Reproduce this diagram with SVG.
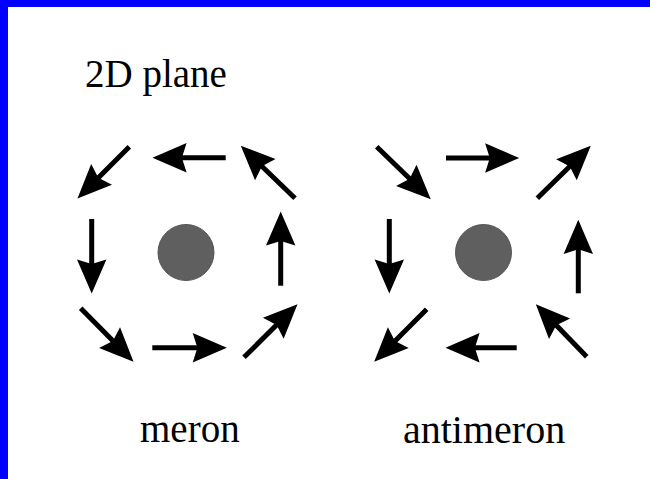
<svg xmlns="http://www.w3.org/2000/svg" width="650" height="479" viewBox="0 0 650 479">
  <style>
    .lbl { font-family: "Liberation Serif", "Times New Roman", serif; fill: #000; }
    .arr { stroke: #000; stroke-width: 5; fill: none; marker-end: url(#head); }
    .core { fill: #5f5f5f; stroke: #555; stroke-width: 1; }
  </style>
  <defs>
    <marker id="head" markerUnits="userSpaceOnUse" markerWidth="40" markerHeight="40" refX="9" refY="0" viewBox="-2 -15 34 30" orient="auto" overflow="visible">
      <path d="M0,-12.5 L29,0 L0,12.5 L4,0 Z" fill="#000"/>
    </marker>
  </defs>
  <rect x="0" y="0" width="650" height="479" fill="#fff"/>
  <rect x="0" y="0" width="650" height="7" fill="#0000ff"/>
  <rect x="0" y="0" width="8" height="479" fill="#0000ff"/>

  <g id="title">
    <text class="lbl" x="85" y="87" font-size="39">2D plane</text>
  </g>

  <g id="meron">
    <circle class="core" cx="186" cy="252.5" r="28"/>
    <text class="lbl" x="140" y="442" font-size="39">meron</text>
  </g>

  <g id="antimeron">
    <circle class="core" cx="483.5" cy="252.5" r="28"/>
    <text class="lbl" x="403" y="443" font-size="40">antimeron</text>
  </g>

  <g id="connectors">
    <!-- meron -->
    <line class="arr" x1="129.3" y1="146.7" x2="94.1" y2="181.9"/>
    <line class="arr" x1="225.7" y1="157.7" x2="176" y2="157.7"/>
    <line class="arr" x1="295" y1="198.3" x2="257.7" y2="162.2"/>
    <line class="arr" x1="91.7" y1="219" x2="91.7" y2="270"/>
    <line class="arr" x1="280.7" y1="285.7" x2="280.7" y2="235"/>
    <line class="arr" x1="80.7" y1="308.3" x2="117" y2="345.1"/>
    <line class="arr" x1="152.3" y1="347.7" x2="203.3" y2="347.7"/>
    <line class="arr" x1="244" y1="357.3" x2="280.8" y2="320.8"/>
    <!-- antimeron -->
    <line class="arr" x1="376.7" y1="146.7" x2="413.9" y2="182.8"/>
    <line class="arr" x1="446" y1="158" x2="495.7" y2="158"/>
    <line class="arr" x1="537.3" y1="198.3" x2="574" y2="162.3"/>
    <line class="arr" x1="389.3" y1="219" x2="389.3" y2="270"/>
    <line class="arr" x1="578.3" y1="293.3" x2="578.3" y2="243.3"/>
    <line class="arr" x1="426.7" y1="309.3" x2="390.8" y2="345.2"/>
    <line class="arr" x1="516.7" y1="347.7" x2="469" y2="347.7"/>
    <line class="arr" x1="586.7" y1="356.7" x2="552.2" y2="321.1"/>
  </g>
</svg>
